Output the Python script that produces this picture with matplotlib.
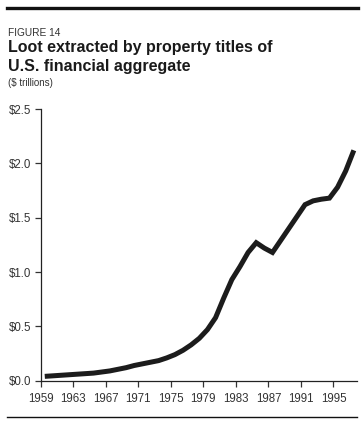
import numpy as np
import matplotlib
matplotlib.use("Agg")
import matplotlib.pyplot as plt
from matplotlib.lines import Line2D

plt.rcParams['font.family'] = ['Liberation Sans', 'DejaVu Sans']

# annual values, $ trillions (plotted at mid-year)
years = list(range(1959, 1998))
loot = [0.04, 0.045, 0.05, 0.055, 0.06, 0.065, 0.07, 0.08, 0.09, 0.105,
        0.12, 0.14, 0.155, 0.17, 0.185, 0.21, 0.24, 0.28, 0.33, 0.39,
        0.47, 0.58, 0.76, 0.93, 1.05, 1.18, 1.27, 1.22, 1.18, 1.29,
        1.40, 1.51, 1.62, 1.655, 1.67, 1.68, 1.78, 1.93, 2.12]

xticks = list(range(1959, 1996, 4))
yticks = [0.0, 0.5, 1.0, 1.5, 2.0, 2.5]
ytick_labels = ["$%.1f" % v for v in yticks]

fig = plt.figure(figsize=(3.64, 4.24), dpi=100)
ax = fig.add_axes([0.1118, 0.1021, 0.981 - 0.1118, 0.7429 - 0.1021])

x = np.array(years) + 0.5
ax.plot(x, loot, color="#1c1c1c", lw=3.6, solid_capstyle="butt",
        solid_joinstyle="miter")

ax.set_xlim(1959, 1997.9)
ax.set_ylim(0, 2.5)
ax.set_xticks(xticks)
ax.set_xticklabels([str(t) for t in xticks])
ax.set_yticks(yticks)
ax.set_yticklabels(ytick_labels)

for s in ["top", "right"]:
    ax.spines[s].set_visible(False)
for s in ["left", "bottom"]:
    ax.spines[s].set_linewidth(0.9)
    ax.spines[s].set_color("#222222")

ax.tick_params(axis="both", labelsize=8.3, colors="#333333", width=0.9,
               length=4, pad=3)
ax.tick_params(axis="x", pad=5)

# rules and headings
fig.add_artist(Line2D([7 / 364, 358 / 364], [1 - 8 / 424, 1 - 8 / 424],
                      color="#111111", lw=2.4))
fig.add_artist(Line2D([7 / 364, 357 / 364], [1 - 417 / 424, 1 - 417 / 424],
                      color="#111111", lw=1.0))

fig.text(8 / 364, 1 - 36 / 424, "FIGURE 14", fontsize=7.3, color="#333333",
         va="baseline")
fig.text(8 / 364, 1 - 52 / 424, "Loot extracted by property titles of",
         fontsize=11.5, fontweight="bold", color="#1a1a1a", va="baseline")
fig.text(8 / 364, 1 - 71 / 424, "U.S. financial aggregate",
         fontsize=11.5, fontweight="bold", color="#1a1a1a", va="baseline")
fig.text(8 / 364, 1 - 86 / 424, "($ trillions)", fontsize=7.0,
         color="#333333", va="baseline")

fig.savefig("out.png", dpi=100)
